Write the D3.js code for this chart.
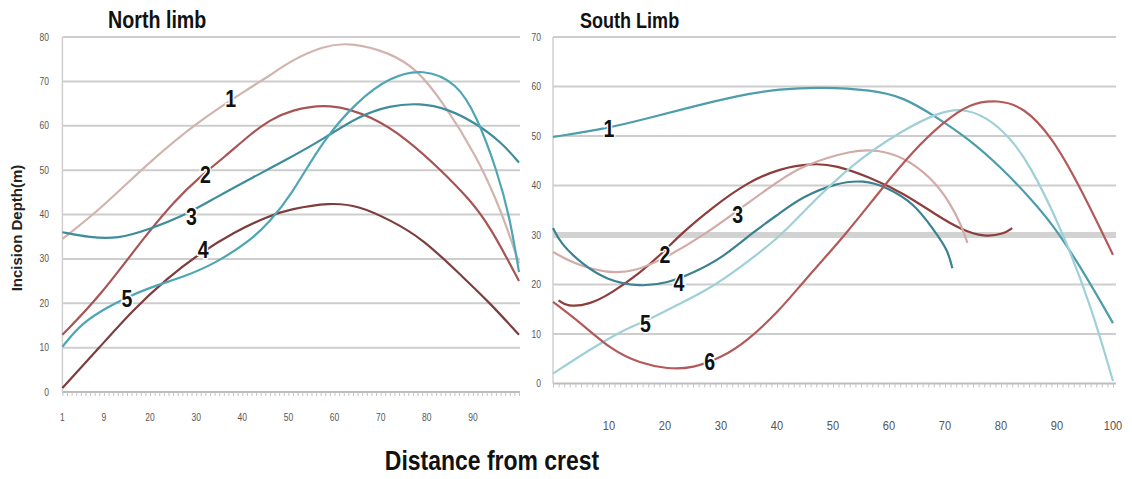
<!DOCTYPE html>
<html>
<head>
<meta charset="utf-8">
<script src="https://cdn.jsdelivr.net/npm/d3@7"></script>
<style>
  body { margin: 0; background: #fff; }
  svg text { font-family: "Liberation Sans", Arial, sans-serif; }
</style>
</head>
<body>
<div id="chart"></div>
<script>
// ---- data ----
// North limb, x = distance from crest, y = incision depth (m)
var north1 = [[1,34.5],[9,41],[19.7,51.7],[30,60.7],[42,68.8],[46,71.3],[50.4,74.6],[57.6,78],[63.4,78.8],[72,76.5],[77.9,72.7],[83.6,65.2],[90.9,53],[95.2,43],[97.4,37],[100,29]];
var north2 = [[1,12.9],[9,21.4],[18.8,35],[25.5,43.3],[30.8,48.5],[36.2,53],[42,58.3],[46,61.3],[50.4,63.5],[59,65.2],[68.4,62],[75.8,56.9],[83,50.1],[89.4,43.3],[93.8,37.2],[100,25]];
var north3 = [[1,36],[7,34.8],[13,34.5],[19.7,36.6],[27.5,39.8],[34.2,43.8],[42,48.2],[50.4,52.8],[58,57.3],[64.9,62],[72,64.6],[78.6,65.1],[84.5,63.8],[90.3,60.8],[96.2,56.3],[100,51.7]];
var north4 = [[1,0.9],[9,10],[16.3,18.5],[23.6,25.5],[30.4,31],[38.1,36],[45.8,39.7],[50.4,41.2],[59,42.7],[65.2,42],[72,38.8],[79.2,34.5],[87.4,26.3],[93.3,20.5],[100,12.9]];
var north5 = [[1,10.2],[5.2,15.6],[11,19.2],[13.9,20.8],[19.7,23.5],[27.5,26],[34.2,29],[42,34.3],[46,38.5],[50.4,44],[57.6,56.9],[64.9,65.5],[72,71],[79.2,72.9],[86.6,69.7],[90.9,62],[95.2,50],[98,39.5],[100,27]];

// South limb
var south1 = [[0,49.8],[10,51.6],[17,53.6],[24.5,55.8],[33,58.2],[40.5,59.5],[48,59.9],[57,59.3],[62.5,57.9],[68.5,53.8],[74.5,49.2],[80.5,43.1],[85,37.7],[89,32.5],[94,24],[100,12.2]];
var south2 = [[1,16.8],[2.5,15.5],[6.5,15.9],[10.5,18.3],[15.5,22.3],[19.5,26.3],[23,30.4],[28.5,35.6],[34.5,40.5],[40.5,43.5],[46.5,44.5],[50.5,44.1],[56.5,41.7],[62.5,38.5],[68.5,34],[73,31],[77,29.6],[80.5,30.2],[82,31.4]];
var south3 = [[0,26.6],[3.5,24.3],[9.5,22.3],[14.5,22.5],[20.5,25.6],[27.5,30.4],[33.5,35.4],[40.5,41.1],[44.5,44],[53.5,47.2],[58,47.2],[62.5,45.8],[67.5,41.7],[71,36.4],[73,31.7],[74,28.4]];
var south4 = [[0,31.4],[1.3,28.4],[5,24.3],[9.5,20.9],[15.5,19.5],[20.5,20.3],[25,22.3],[30.5,25.6],[35.5,30.4],[40.5,34.4],[44.5,37.7],[50.5,40.5],[55.5,41.1],[59.5,39.7],[64.5,36.4],[68,31],[70.5,27],[71.3,23.3]];
var south5 = [[0,2],[6.5,6.8],[12.5,10.8],[17,12.8],[21.5,15.5],[27.5,18.8],[33.5,23.5],[40.5,29.6],[44.5,34.5],[53.5,44.5],[62.5,51.2],[68.5,54.6],[73,55.7],[77.5,53.8],[81.5,49.8],[85,44.5],[90.5,32],[96,16],[100,0.5]];
var south6 = [[0,16.5],[5,12.2],[10.5,6.7],[15.5,4.1],[20.5,2.9],[25,3.1],[30,5.2],[34.5,8.4],[40.5,14.8],[44.5,20.3],[52.5,30.4],[58.5,39.1],[64.5,47.2],[69.5,52.6],[74.5,56.7],[79.5,57.3],[84,55.9],[89,50],[94,40],[100,26]];

// tick labels
var northXTicks = [1,10,20,30,40,50,60,70,80,90];
var northXLabels = ["1","9","20","30","40","50","60","70","80","90"];
var northYTicks = [0,10,20,30,40,50,60,70,80];
var southXTicks = [10,20,30,40,50,60,70,80,90,100];
var southYTicks = [0,10,20,30,40,50,60,70];

// curve number labels: [curve number, x, y] in data units
var northNames = [["1",37.5,66],["2",32,49],["3",29,39.5],["4",31.5,32],["5",15,21]];
var southNames = [["1",10,51.5],["2",20,26],["3",33,34],["4",22.5,20.3],["5",16.5,12],["6",28,4.3]];

var northColors = ["#d2b4ae","#a65454","#3f8d9b","#7d3d3d","#4ea6b5"];
var southColors = ["#4d9dab","#8e3c3c","#d1aba7","#3b8291","#9fd0d7","#b35959"];

// ---- drawing ----
var svg = d3.select("#chart").append("svg")
    .attr("width", 1132)
    .attr("height", 479);

var line = function(xs, ys){
  return d3.line()
    .x(function(d){ return xs(d[0]); })
    .y(function(d){ return ys(d[1]); })
    .curve(d3.curveBasis);
};

function condensed(g, txt, x, y, size, anchor, color){
  return g.append("text")
    .attr("transform", "translate(" + x + "," + y + ") scale(0.82,1)")
    .attr("text-anchor", anchor || "start")
    .style("font-size", size + "px")
    .style("font-weight", "bold")
    .style("fill", color || "#111")
    .text(txt);
}

function panel(opt){
  var g = svg.append("g");
  var xs = d3.scaleLinear().domain(opt.xDomain).range(opt.xRange);
  var ys = d3.scaleLinear().domain(opt.yDomain).range(opt.yRange);

  // horizontal gridlines
  g.selectAll("line.grid").data(opt.yTicks.filter(function(d){ return d > 0; }))
    .enter().append("line")
    .attr("class", "grid")
    .attr("x1", opt.xRange[0]).attr("x2", opt.gridEnd)
    .attr("y1", function(d){ return ys(d); })
    .attr("y2", function(d){ return ys(d); })
    .style("stroke", function(d){ return d === opt.band ? "#d2d2d2" : "#cdcdcd"; })
    .style("stroke-width", function(d){ return d === opt.band ? 6 : 2; });

  // x axis with dense minor ticks
  var xAxis = d3.axisBottom(xs)
    .tickValues(d3.range(opt.xDomain[0], opt.xDomain[1] + 1, 1))
    .tickSize(4)
    .tickFormat("");
  var ax = g.append("g")
    .attr("transform", "translate(0," + ys(0) + ")")
    .call(xAxis);
  ax.select(".domain").attr("d", "M" + opt.xRange[0] + ",0H" + opt.gridEnd)
    .style("stroke", "#bdbdbd").style("stroke-width", 2);
  ax.selectAll(".tick line").style("stroke", "#c4c4c4").style("stroke-width", 1);

  // y axis line
  g.append("line")
    .attr("x1", opt.xRange[0]).attr("x2", opt.xRange[0])
    .attr("y1", ys(opt.yDomain[1])).attr("y2", ys(0))
    .style("stroke", "#cfcfcf").style("stroke-width", 1.5);

  // tick labels
  g.selectAll("text.ylab").data(opt.yTicks).enter().append("text")
    .attr("class", "ylab")
    .attr("transform", function(d){ return "translate(" + opt.yLabX + "," + (ys(d) + 3.5) + ") scale(0.85,1)"; })
    .attr("text-anchor", "end")
    .style("font-size", "10px")
    .style("fill", "#555")
    .text(function(d){ return d; });

  g.selectAll("text.xlab").data(opt.xTicks).enter().append("text")
    .attr("class", "xlab")
    .attr("transform", function(d){ return "translate(" + xs(d) + "," + opt.xLabY + ") scale(0.85,1)"; })
    .attr("text-anchor", "middle")
    .style("font-size", opt.xLabSize + "px")
    .style("fill", "#555")
    .text(function(d, i){ return opt.xLabels ? opt.xLabels[i] : d; });

  // curves
  var path = line(xs, ys);
  g.selectAll("path.curve").data(opt.series).enter().append("path")
    .attr("class", "curve")
    .attr("d", path)
    .style("fill", "none")
    .style("stroke", function(d, i){ return opt.colors[i]; })
    .style("stroke-width", 2.2);

  // curve numbers
  g.selectAll("text.name").data(opt.names).enter().append("text")
    .attr("class", "name")
    .attr("transform", function(d){ return "translate(" + xs(d[1]) + "," + (ys(d[2]) + 8) + ") scale(0.85,1)"; })
    .attr("text-anchor", "middle")
    .style("font-size", "23px")
    .style("font-weight", "bold")
    .style("fill", "#111")
    .style("stroke", "#fff")
    .style("stroke-width", 3)
    .style("paint-order", "stroke")
    .text(function(d){ return d[0]; });

  condensed(g, opt.title, opt.titleX, 28, opt.titleSize, "start");
}

panel({
  title: "North limb", titleX: 108, titleSize: 24,
  xDomain: [1, 100], xRange: [62.4, 519], gridEnd: 520,
  yDomain: [0, 80], yRange: [392, 37],
  yTicks: northYTicks, xTicks: northXTicks, xLabels: northXLabels,
  yLabX: 49, xLabY: 421, xLabSize: 10,
  series: [north1, north2, north3, north4, north5],
  colors: northColors, names: northNames
});

panel({
  title: "South Limb", titleX: 580, titleSize: 22,
  xDomain: [0, 100], xRange: [553, 1113], gridEnd: 1116,
  yDomain: [0, 70], yRange: [383.5, 37],
  yTicks: southYTicks, xTicks: southXTicks, band: 30,
  yLabX: 541, xLabY: 430, xLabSize: 13,
  series: [south1, south2, south3, south4, south5, south6],
  colors: southColors, names: southNames
});

// axis titles
svg.append("text")
  .attr("transform", "translate(22,228) rotate(-90)")
  .attr("text-anchor", "middle")
  .style("font-size", "15px")
  .style("font-weight", "bold")
  .style("fill", "#222")
  .text("Incision Depth(m)");

condensed(svg, "Distance from crest", 492, 470, 28, "middle");
</script>
</body>
</html>
